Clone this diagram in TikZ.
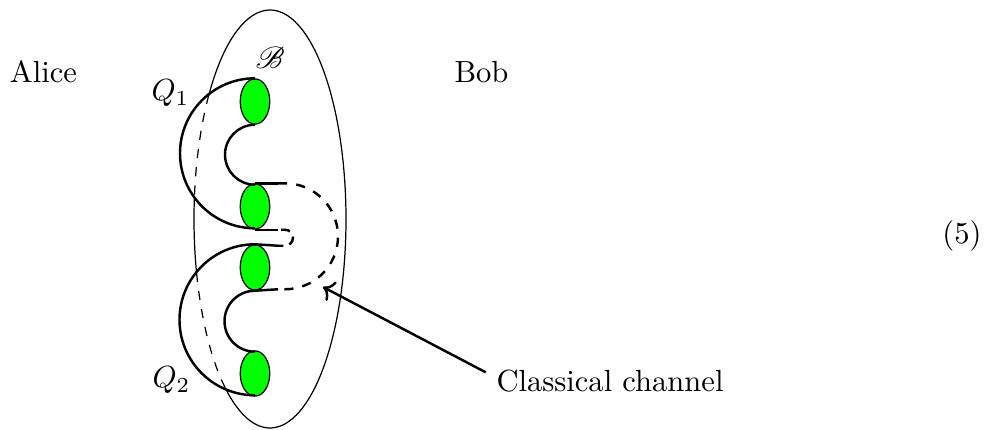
\documentclass[tikz,border=0pt]{standalone}
\usepackage{amsmath, amssymb}
\usepackage{mathrsfs}
\usetikzlibrary{positioning, arrows.meta, shapes.geometric}

\begin{document}
\begin{tikzpicture}
            [x=1.15cm, y=1.15cm,
             bead/.style={ellipse, draw, fill=green, inner sep=0pt,
                          minimum width=3.4mm, minimum height=5.2mm},
             band/.style={thick}, wall/.style={thin}]
            \useasboundingbox (0,0) rectangle (9.84,4.29);

            % the region B, dashed where the bands pass in front of it
            \coordinate (bc) at (2.70,2.10);
            \draw[wall] (bc) ++(143.6:0.76 and 2.09) arc[start angle=143.6, end angle=-124.9, x radius=0.76, y radius=2.09];
            \draw[wall, dashed] (bc) ++(143.6:0.76 and 2.09) arc[start angle=143.6, end angle=174.3, x radius=0.76, y radius=2.09];
            \draw[wall] (bc) ++(174.3:0.76 and 2.09) arc[start angle=174.3, end angle=194.9, x radius=0.76, y radius=2.09];
            \draw[wall, dashed] (bc) ++(194.9:0.76 and 2.09) arc[start angle=194.9, end angle=235.1, x radius=0.76, y radius=2.09];

            \node[bead] (b1) at (2.55,3.275) {};
            \node[bead] (b2) at (2.55,2.225) {};
            \node[bead] (b3) at (2.55,1.615) {};
            \node[bead] (b4) at (2.55,0.555) {};

            % Q1 and Q2
            \draw[band] (b1.north) arc[start angle=90, end angle=270, radius=0.75];
            \draw[band] (b1.south) arc[start angle=90, end angle=270, radius=0.30];
            \draw[band] (b3.north) arc[start angle=90, end angle=270, radius=0.755];
            \draw[band] (b3.south) arc[start angle=90, end angle=270, radius=0.305];

            % classical links
            \draw[band] (b2.north) -- +(0.23,0) coordinate (u1);
            \draw[band, dashed] (u1) -- +(0.07,0) arc[start angle=90, end angle=-90, radius=0.53] -- +(-0.07,0) coordinate (u2);
            \draw[band] (u2) -- (b3.south);
            \draw[band] (b2.south) -- +(0.23,0) coordinate (v1);
            \draw[band, dash pattern=on 3pt off 2pt, dash phase=4pt] (v1) -- +(0.07,0) arc[start angle=90, end angle=-90, radius=0.08] -- +(-0.07,0) coordinate (v2);
            \draw[band] (v2) -- (b3.north);

            \node (alice) at (0.435,3.575) {Alice};
            \node (bob) at (4.815,3.565) {Bob};
            \node (bset) at (2.70,3.715) {$\mathscr{B}$};
            \node (q1) at (1.705,3.36) {$Q_1$};
            \node (q2) at (1.715,0.49) {$Q_2$};
            \node (eqno) at (9.62,1.93) {(5)};
            \node (chan) at (6.10,0.48) {Classical channel};

            \coordinate (tip) at (3.23,1.42);
            \draw[->, thick] (chan.176) -- (tip);
        \end{tikzpicture}
\end{document}
